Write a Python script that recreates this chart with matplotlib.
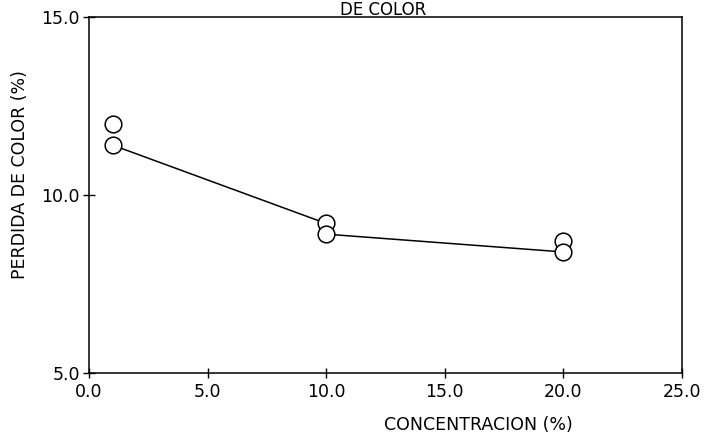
import matplotlib
matplotlib.use("Agg")
import matplotlib.pyplot as plt

# Data
conc_points = [1, 1, 10, 10, 20, 20]
loss_points = [12.0, 11.4, 9.2, 8.9, 8.7, 8.4]
line_x = [1, 10, 10, 20]
line_y = [11.4, 9.2, 8.9, 8.4]
xticks = [0, 5, 10, 15, 20, 25]
xticklabels = ["0.0", "5.0", "10.0", "15.0", "20.0", "25.0"]
yticks = [5, 10, 15]
yticklabels = ["5.0", "10.0", "15.0"]

plt.rcParams['font.family'] = ['DejaVu Sans']
fig = plt.figure(figsize=(7.07, 4.4), dpi=100)
ax = fig.add_axes([89/707, 1-373/440, (682-89)/707, (373-17)/440])

ax.plot(line_x, line_y, color='black', lw=1.1, zorder=2)
ax.plot(conc_points, loss_points, linestyle='none', marker='o', ms=12,
        mfc='white', mec='black', mew=1.1, zorder=3)

ax.set_xlim(0, 25)
ax.set_ylim(5, 15)
ax.set_xticks(xticks)
ax.set_xticklabels(xticklabels)
ax.set_yticks(yticks)
ax.set_yticklabels(yticklabels)
ax.tick_params(axis='both', direction='inout', length=9, width=1, labelsize=12.5,
               colors='black', pad=2)
ax.tick_params(axis='x', length=7, pad=4)
for s in ax.spines.values():
    s.set_linewidth(1.1)
    s.set_color('black')

fig.text(20/707, 1-175/440, "PERDIDA DE COLOR (%)", rotation=90, ha='center',
         va='center', fontsize=12.5)
fig.text(478/707, 1-425/440, "CONCENTRACION (%)", ha='center', va='center',
         fontsize=12.5)
fig.text(383/707, 1-1/440, "DE COLOR", ha='center', va='top', fontsize=12)

fig.savefig("out.png", dpi=100)
